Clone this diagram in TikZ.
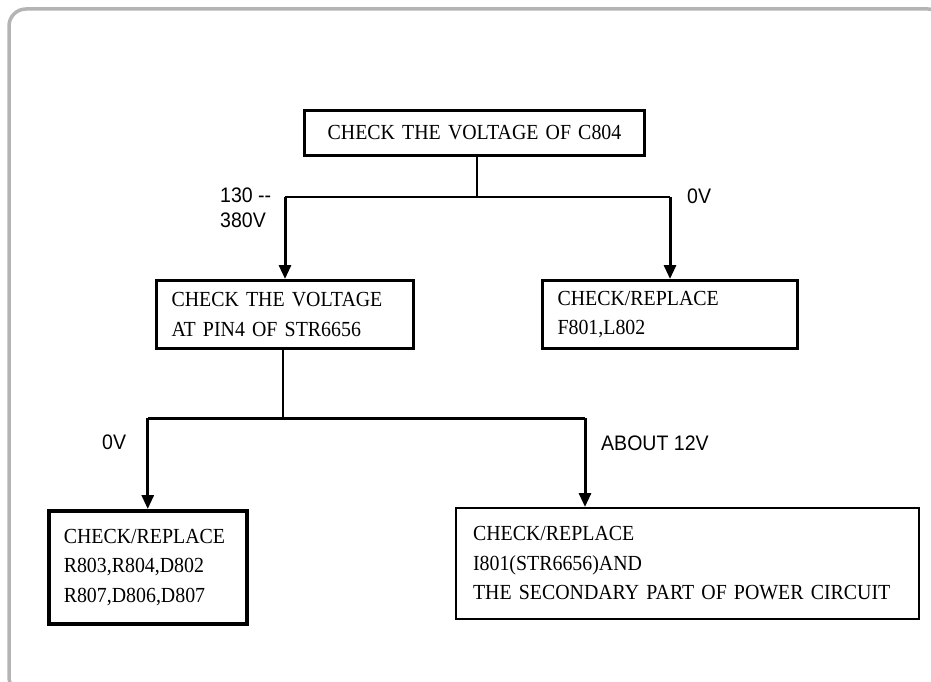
\documentclass[tikz,border=0pt]{standalone}
\usepackage{fontspec}
\setmainfont{Liberation Serif}[FakeStretch=0.925]
\newfontfamily\labfont{Liberation Sans}[FakeStretch=0.93]
\usetikzlibrary{arrows.meta}
\definecolor{framegray}{HTML}{B4B4B4}
\tikzset{
  box/.style={draw=black, line width=3pt, fill=white, anchor=north west, inner ysep=0pt,
              font=\fontsize{21.5}{29.5}\selectfont, align=left},
  thinbox/.style={box, line width=2pt},
  conn/.style={draw=black, line width=1.6pt},
  bus/.style={draw=black, line width=3pt},
  arr/.style={draw=black, line width=3pt, -{Triangle[width=12pt,length=14pt]}},
  lab/.style={font=\labfont\fontsize{21}{25}\selectfont, anchor=west, align=left, inner sep=0pt}
}
\begin{document}
\begin{tikzpicture}[x=1pt,y=-1pt]
\useasboundingbox (0,0) rectangle (931,682);
\fill[white] (0,0) rectangle (931,682);
\begin{scope}
  \clip (0,0) rectangle (931,682);
  \draw[framegray, line width=3.5pt, rounded corners=17pt] (9,9) rectangle (945,694);
\end{scope}

% boxes
\node[box, minimum width=340pt, minimum height=45pt, align=center, text width=310pt, inner xsep=15pt] (b1) at (303,109) {CHECK THE VOLTAGE OF C804};
\node[box, minimum width=257pt, minimum height=68pt, text width=227pt, inner xsep=15pt] (b2) at (155,279) {CHECK THE VOLTAGE\\AT PIN4 OF STR6656};
\node[box, minimum width=255pt, minimum height=68pt, text width=225pt, inner xsep=15pt] (b3) at (541,279) {CHECK/REPLACE\\F801,L802};
\node[box, line width=3.5pt, minimum width=198pt, minimum height=113pt, text width=168pt, inner xsep=15pt] (b4) at (47,509) {CHECK/REPLACE\\R803,R804,D802\\R807,D806,D807};
\node[thinbox, minimum width=463pt, minimum height=111pt, text width=429pt, inner xsep=17pt] (b5) at (455,507) {CHECK/REPLACE\\I801(STR6656)AND\\THE SECONDARY PART OF POWER CIRCUIT};

% upper connectors
\coordinate (j1) at (477,197);
\draw[conn] (b1.south -| j1) -- (j1);
\draw[conn] (b2.north |- j1) -- (b3.north |- j1);
\draw[arr] (b2.north |- j1) -- (b2.north);
\draw[arr] (b3.north |- j1) -- (b3.north);

% lower connectors
\coordinate (j2) at (283,418);
\coordinate (t5) at (585,418);
\draw[conn] (b2.south -| j2) -- (j2);
\draw[bus] (b4.north |- j2) -- (t5);
\draw[arr] (b4.north |- j2) -- (b4.north);
\draw[arr] (t5) -- (t5 |- b5.north);

% labels
\node[lab] (l1) at (220,208) {130 -{}-\\380V};
\node[lab] (l2) at (687,196) {0V};
\node[lab] (l3) at (102,442) {0V};
\node[lab] (l4) at (601,443) {ABOUT 12V};
\end{tikzpicture}
\end{document}
